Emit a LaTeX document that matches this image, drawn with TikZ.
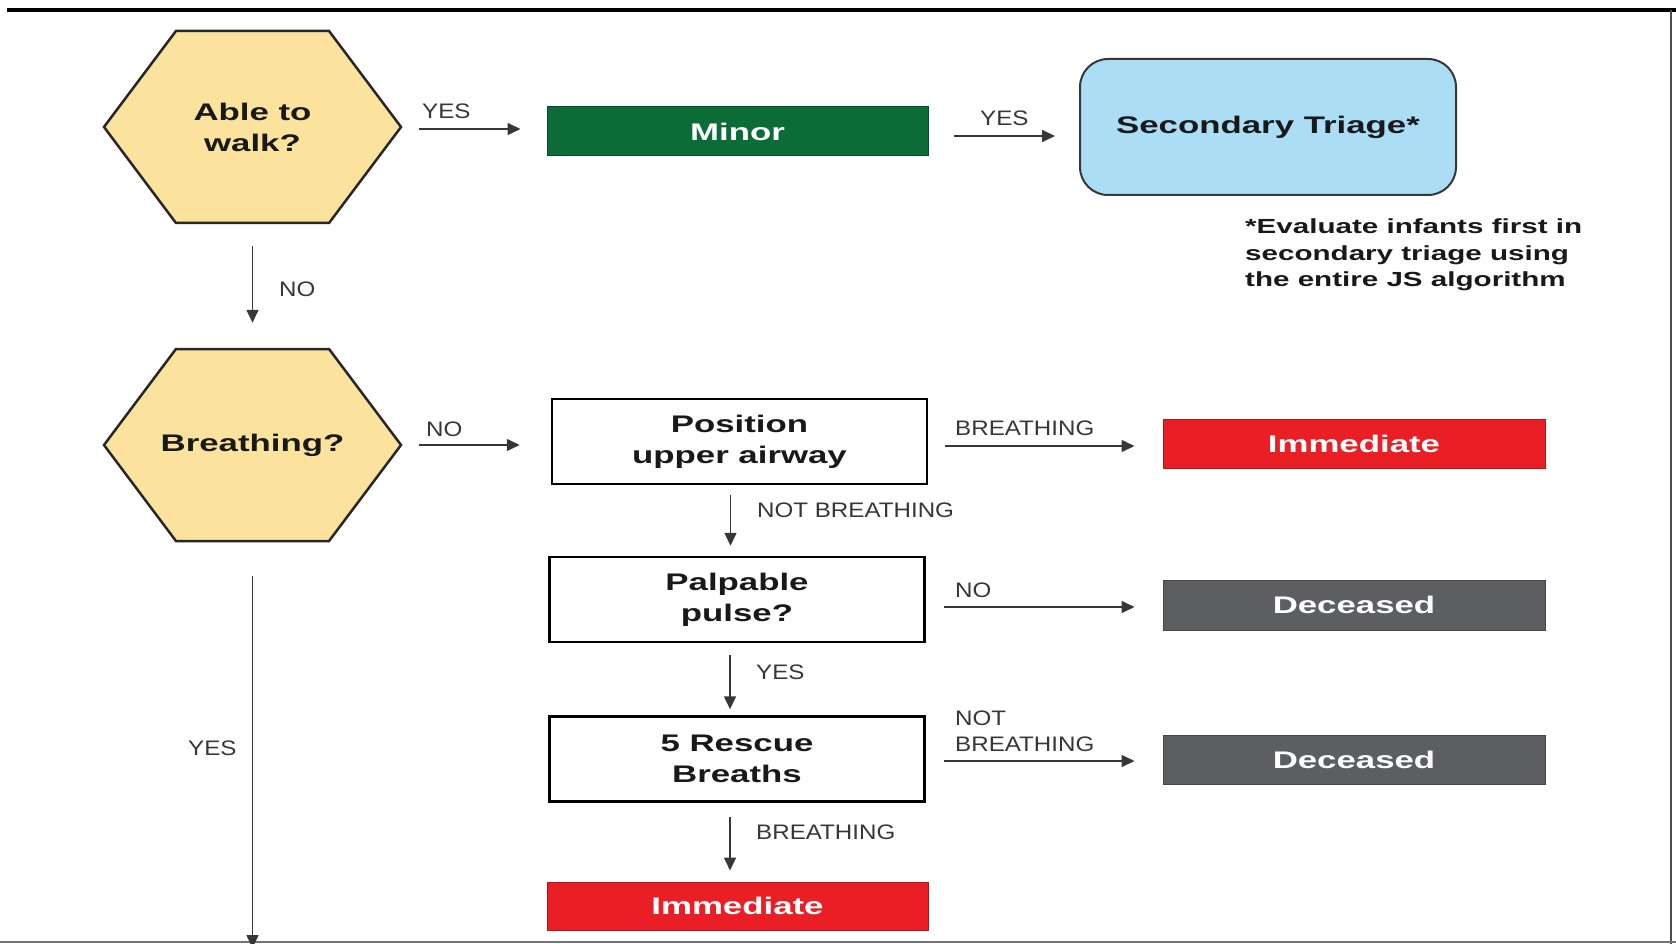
\documentclass[tikz,border=0pt]{standalone}
\usepackage{fontspec}
\setmainfont{Liberation Sans}
\newfontfamily\widefont[FakeStretch=1.45]{Liberation Sans}
\newfontfamily\edgefont[FakeStretch=1.15]{Liberation Sans}
\usetikzlibrary{shapes.symbols,arrows.meta,positioning}

\definecolor{hexfill}{RGB}{251,227,158}
\definecolor{minorgreen}{RGB}{12,108,56}
\definecolor{triageblue}{RGB}{171,221,245}
\definecolor{immred}{RGB}{234,31,37}
\definecolor{deadgray}{RGB}{92,94,97}
\definecolor{inkgray}{RGB}{55,55,55}

\newcommand{\bfbox}{\widefont\bfseries\fontsize{24}{31}\selectfont}
\newcommand{\notetext}{\widefont\bfseries\fontsize{20.4}{26.5}\selectfont}
\newcommand{\edgetext}{\edgefont\fontsize{21}{26}\selectfont}

\tikzset{
  decision/.style={signal, signal to=east and west, signal pointer angle=106.3, draw=black!85, line width=2.5pt, fill=hexfill, minimum width=297pt, minimum height=192pt, inner sep=0pt, align=center, font=\bfbox, text=black!90},
  tag/.style={minimum width=381pt, minimum height=49pt, inner sep=0pt, line width=1pt, font=\bfbox, text=white},
  stepbox/.style={draw=black, line width=2.5pt, minimum width=375pt, minimum height=85pt, inner sep=0pt, align=center, font=\bfbox, text=black!90},
  lbl/.style={anchor=west, inner sep=0pt, align=left, font=\edgetext, text=inkgray},
  flow/.style={draw=inkgray, line width=1.6pt, -{Triangle[length=13pt,width=12pt]}, shorten <=16pt, shorten >=26pt}
}

\begin{document}
\begin{tikzpicture}[x=1pt,y=-1pt]
    \useasboundingbox (0,0) rectangle (1676,944);
    \draw[line width=4pt] (7,10) -- (1676,10);
    \draw[line width=2pt, black!70] (1671,10) -- (1671,944);
    \draw[line width=2pt, black!55] (0,942) -- (1676,942);

    \node[decision] (walk) at (252.5,127) {Able to\\walk?};
    \node[decision] (breath) at (252.5,445) {\makebox[0pt]{Breathing?}};
    \node[tag, fill=minorgreen, draw=minorgreen!70!black] (minor) at (737.5,131.5) {Minor};
    \node[draw=inkgray, line width=2pt, fill=triageblue, rounded corners=28pt, minimum width=376pt, minimum height=136pt, font=\bfbox, text=black!90] (second) at (1268,127) {Secondary Triage*};
    \node[anchor=north west, inner sep=0pt, align=left, font=\notetext, text=black!90] (note) at (1245,219) {*Evaluate infants first in\\secondary triage using\\the entire JS algorithm};
    \node[stepbox] (position) at (739.5,441.5) {Position\\upper airway};
    \node[stepbox] (pulse) at (737,599.5) {Palpable\\pulse?};
    \node[stepbox] (rescue) at (737,759) {5 Rescue\\Breaths};
    \node[tag, fill=immred, draw=immred!75!black, minimum width=382pt] (immA) at (1354,443.5) {Immediate};
    \node[tag, fill=deadgray, draw=deadgray!75!black, minimum width=382pt, minimum height=50pt] (decA) at (1354,605) {Deceased};
    \node[tag, fill=deadgray, draw=deadgray!75!black, minimum width=382pt] (decB) at (1354,759.5) {Deceased};
    \node[tag, fill=immred, draw=immred!75!black, minimum height=48pt] (immB) at (737.5,906) {Immediate};
    \coordinate (bottom) at (254,948);

    \draw[flow] ([yshift=-2pt]walk.east) -- ([yshift=-2pt]walk.east -| minor.west);
    \draw[flow, shorten <=25pt, shorten >=24pt] ([yshift=-4.5pt]minor.east) -- ([yshift=-4.5pt]minor.east -| second.west);
    \draw[flow, shorten <=22pt, shorten >=25pt] (walk.south) -- (breath.north);
    \draw[flow, shorten >=31pt] (breath.east) -- (breath.east -| position.west);
    \draw[flow, shorten <=17pt, shorten >=28pt] ([yshift=-4.5pt]position.east) -- ([yshift=-4.5pt]position.east -| immA.west);
    \draw[flow, shorten <=10pt, shorten >=10pt] ([xshift=-9pt]position.south) -- ([xshift=-9pt]position.south |- pulse.north);
    \draw[flow, shorten <=18pt, shorten >=28pt] ([yshift=-7.5pt]pulse.east) -- ([yshift=-7.5pt]pulse.east -| decA.west);
    \draw[flow, shorten <=12pt, shorten >=6pt] ([xshift=-7pt]pulse.south) -- ([xshift=-7pt]pulse.south |- rescue.north);
    \draw[flow, shorten <=18pt, shorten >=28pt] ([yshift=-2pt]rescue.east) -- ([yshift=-2pt]rescue.east -| decB.west);
    \draw[flow, shorten <=14pt, shorten >=11pt] ([xshift=-7pt]rescue.south) -- ([xshift=-7pt]rescue.south |- immB.north);
    \draw[flow, shorten <=34pt, shorten >=0pt] (breath.south) -- (breath.south |- bottom);

    \node[lbl] (yesA) at (422,111) {YES};
    \node[lbl] (yesB) at (980,118) {YES};
    \node[lbl] (noA) at (279,289) {NO};
    \node[lbl] (noB) at (426,429) {NO};
    \node[lbl] (brA) at (955,428) {BREATHING};
    \node[lbl] (notbrA) at (757,510) {NOT BREATHING};
    \node[lbl] (noC) at (955,590) {NO};
    \node[lbl] (yesC) at (756,672) {YES};
    \node[lbl] (notbrB) at (955,731) {NOT\\BREATHING};
    \node[lbl] (brB) at (756,832) {BREATHING};
    \node[lbl] (yesD) at (188,748) {YES};
\end{tikzpicture}
\end{document}
